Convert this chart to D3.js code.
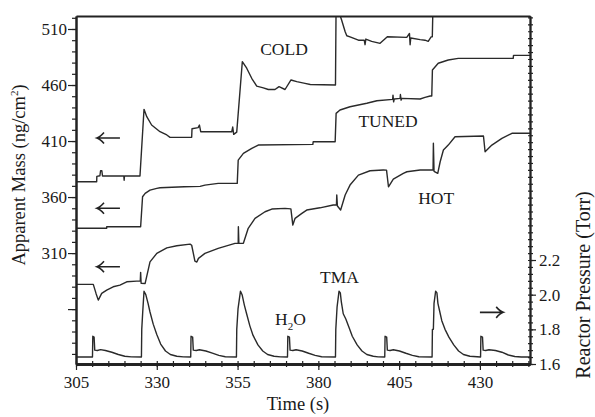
<!DOCTYPE html>
<html><head><meta charset="utf-8">
<script src="https://cdn.jsdelivr.net/npm/d3@7"></script>
<style>
body{margin:0;background:#fff}
svg{display:block}
text{font-family:"Liberation Serif","Times New Roman",serif;fill:#1a1a1a}
</style></head><body>
<svg id="c" width="595" height="417"></svg>
<script>
// ---- data ----
const timeTicks=[305,330,355,380,405,430];
const massTicks=[310,360,410,460,510];
const pressureTicks=[1.6,1.8,2.0,2.2];

// reactor pressure (Torr) vs time (s)
const pressure=[[305,1.64],[310.1,1.64],[310.2,1.76],[310.6,1.755],[310.8,1.68],[311.6,1.678],[312.6,1.683],[314.1,1.678],[316.1,1.668],[318.1,1.655],[320.1,1.645],[322.1,1.641],
[325.25,1.64],[325.35,1.80],[325.65,1.90],[326.05,2.02],[326.6,2.0],[327.3,1.95],[327.9,1.90],[328.9,1.83],[330,1.77],[331.2,1.715],[332.7,1.675],[334.2,1.655],[336.2,1.645],[338.2,1.641],
[340.5,1.64],[340.6,1.76],[341.1,1.755],[341.3,1.68],[342.2,1.678],[343.2,1.682],[345.2,1.675],[347.2,1.663],[349.2,1.65],[351.2,1.642],
[354.65,1.64],[354.75,1.80],[355.15,1.92],[355.9,2.02],[356.4,2.0],[357.1,1.94],[357.8,1.89],[358.8,1.82],[359.8,1.765],[361.3,1.71],[362.8,1.675],[364.3,1.655],[366.3,1.645],[368.3,1.641],
[370.45,1.64],[370.55,1.76],[371.05,1.755],[371.25,1.68],[372.1,1.678],[373.1,1.682],[375,1.675],[377,1.662],[379,1.65],[381,1.642],
[385.3,1.64],[385.4,1.80],[385.8,1.93],[386.4,2.02],[386.8,2.01],[387.1,1.96],[387.7,1.89],[388.5,1.86],[389.5,1.81],[390.5,1.76],[392,1.71],[393.5,1.675],[395,1.655],[397,1.645],[398.5,1.641],
[400.55,1.64],[400.65,1.76],[401.15,1.755],[401.35,1.68],[402.2,1.678],[403.2,1.682],[405.1,1.675],[407.1,1.662],[409.1,1.65],[411.1,1.642],
[415.2,1.64],[415.3,1.80],[415.6,1.80],[415.8,1.95],[416.3,2.02],[416.7,2.01],[417.0,1.95],[417.6,1.90],[418.2,1.85],[419.2,1.80],[420.4,1.755],[421.9,1.71],[423.4,1.675],[424.9,1.655],[426.9,1.645],
[430.2,1.64],[430.3,1.76],[430.8,1.755],[431.0,1.68],[431.8,1.678],[432.8,1.682],[434.8,1.678],[436.8,1.668],[438.8,1.652],[440.8,1.643],[442.8,1.64],[445.5,1.64]];

// apparent mass (ng/cm2), COLD
const cold=[[305,373.7],[311.4,373.7],[311.45,378.5],[312.4,379],[312.6,383.5],[313.0,383.5],[313.2,378.8],[319.8,378.8],[319.9,375],[320.0,378.8],[324.8,378.8],
[326.05,438.3],[326.9,431.7],[328.4,424.3],[331.0,418.3],[333.1,415.4],[334.1,413.3],[340.8,413.3],[340.9,421],[342.8,422],[343.2,424.3],[343.6,418.3],[353.2,418.3],[353.5,422.5],[353.8,416],[354.74,418],
[356.47,480.8],[357.83,475],[359.38,466],[360.93,459],[362.97,457.5],[364.52,456],[366.59,456],[367.83,458.5],[369.69,456],[371.54,464.5],[373.31,463],[375.88,461.5],[377.5,460.5],[385.3,460],
[385.5,535],[386.5,524],[387.2,518],[388.3,507.6],[388.8,504],[389.8,503],[392.4,500],[394.2,500],[394.45,496],[394.7,501],[396.5,499],[399.1,497.2],[401.35,503.1],[407.35,502.5],[408.2,506],[408.4,496],[408.6,502],[411.5,500.5],[413.0,500],[414.0,499],[414.9,503],[415.27,503],
[415.5,535],[445.5,535]];

// apparent mass (ng/cm2), TUNED
const tuned=[[305,332.1],[314.5,332.1],[314.5,333.5],[325.0,333.5],[325.6,360.3],[326.4,363.3],[327.9,366.2],[330,367.8],[331,368.3],[338.5,369.2],[343.4,369.5],[344.9,370.7],[349.0,372.2],[354.9,372.2],
[355.2,393],[356.8,399],[359.4,403.5],[361.4,406.4],[378.3,407],[378.4,409.4],[385.2,409.4],
[385.5,434.7],[386.7,437.7],[389.8,440.6],[395,443.7],[398.1,446],[403.0,447.2],[403.1,451],[403.3,445],[403.5,447.5],[405.3,448.1],[405.4,451.5],[405.6,446.5],[405.8,448.1],[411.5,447.5],[413.0,449],[414.6,450.2],[415.1,450.2],
[415.3,473.4],[417.1,479.4],[420.2,482.3],[423.3,483.8],[440.3,483.8],[440.4,486.5],[445.5,486.5]];

// apparent mass (ng/cm2), HOT
const hot=[[305,282.1],[310.35,282.1],[311.2,274],[311.9,268],[312.95,274],[314.5,277],[316.5,279.9],[318.6,281.4],[320.7,284.4],[323.8,285],[324.9,285],[325.0,292.8],[325.15,283],[326.4,282.9],
[327.9,302.2],[330,309.7],[333.1,314.7],[336.2,316.5],[340.3,318],[340.8,317],[341.8,302.9],[342.4,302],[342.9,305.3],[344.9,309.7],[349,314.2],[354.2,318.7],[355.2,318.7],[355.25,333.5],[355.4,318.7],[356.8,318.7],
[358.3,332.1],[360.4,341],[363.5,346.9],[365.6,349.3],[369.7,349.9],[371.5,349.5],[372.1,335],[372.8,341],[374.9,345.4],[376.4,348.4],[380.5,350.4],[384.6,352.9],[385.6,352.9],[385.7,361.8],[385.9,352],[386.9,348.4],
[388.3,361.8],[389.8,370.7],[392.4,379.6],[396,383.5],[400.1,384.1],[401.1,384],[401.7,369.2],[403.2,376],[406.3,381.2],[407.4,382.6],[411.5,384.1],[415.1,384.1],[415.5,384.1],[415.6,408],[415.8,383],[416.95,381.2],
[417.7,391.5],[418.7,402],[420.2,406.4],[422.3,413.8],[431.1,414.5],[431.6,400.4],[433.7,406.4],[436.8,412.4],[439.9,416.9],[445.5,416.9]];

const labels=[
 {text:"COLD",t:362.0,v:486.8,scale:"mass"},
 {text:"TUNED",t:392.4,v:422.8,scale:"mass"},
 {text:"HOT",t:410.9,v:353.8,scale:"mass"},
 {text:"TMA",t:380.5,v:2.069,scale:"p"}
];
const arrows=[
 {t0:311.5,t1:318.6,v:412.7,scale:"mass",dir:-1},
 {t0:311.5,t1:318.6,v:350.0,scale:"mass",dir:-1},
 {t0:311.5,t1:318.6,v:297.8,scale:"mass",dir:-1},
 {t0:430.0,t1:437.2,v:1.898,scale:"p",dir:1}
];

// ---- layout ----
const L=76,R=530,T=16,B=364;
const svg=d3.select("#c");
const x=d3.scaleLinear().domain([305,445.5]).range([L,R]);
const yM=d3.scaleLinear().domain([211,521.6]).range([B,T]);
const yP=d3.scaleLinear().domain([1.6,3.608]).range([B,T]);
const sc={mass:yM,p:yP};

svg.append("clipPath").attr("id","clip").append("rect")
  .attr("x",L).attr("y",T).attr("width",R-L).attr("height",B-T);

const ink="#222";
const lineM=d3.line().x(d=>x(d[0])).y(d=>yM(d[1]));
const lineP=d3.line().x(d=>x(d[0])).y(d=>yP(d[1]));
const g=svg.append("g").attr("clip-path","url(#clip)");
[cold,tuned,hot].forEach(s=>g.append("path").attr("d",lineM(s)).attr("fill","none")
  .attr("stroke","#2a2a2a").attr("stroke-width",1.4).attr("stroke-linejoin","round"));
g.append("path").attr("d",lineP(pressure)).attr("fill","none")
  .attr("stroke","#2a2a2a").attr("stroke-width",1.4).attr("stroke-linejoin","round");

// ---- axes ----
function styleAxis(sel,w){
  sel.select(".domain").attr("stroke",ink).attr("stroke-width",w);
  sel.selectAll(".tick line").attr("stroke",ink).attr("stroke-width",1.2);
  sel.selectAll(".tick text").attr("font-family",'"Liberation Serif",serif').attr("font-size",17).attr("fill",ink);
}
const minorT=d3.range(305,446,5);
const minorM=d3.range(220,521,10);
const minorP=d3.range(0,51).map(i=>+(1.6+i*0.04).toFixed(2)).filter(v=>v<=3.6);

// bottom
let a=svg.append("g").attr("transform",`translate(0,${B})`)
  .call(d3.axisBottom(x).tickValues(minorT).tickSize(3).tickFormat("").tickSizeOuter(0));
styleAxis(a,2.6);
a=svg.append("g").attr("transform",`translate(0,${B})`)
  .call(d3.axisBottom(x).tickValues(minorT).tickSize(-3).tickFormat("").tickSizeOuter(0));
styleAxis(a,2.6);
a=svg.append("g").attr("transform",`translate(0,${B})`)
  .call(d3.axisBottom(x).tickValues(timeTicks).tickSize(6).tickPadding(6).tickFormat(d3.format("d")).tickSizeOuter(0));
styleAxis(a,2.6);

// left
a=svg.append("g").attr("transform",`translate(${L},0)`)
  .call(d3.axisLeft(yM).tickValues(minorM).tickSize(4).tickFormat("").tickSizeOuter(0));
styleAxis(a,2);
a=svg.append("g").attr("transform",`translate(${L},0)`)
  .call(d3.axisLeft(yM).tickValues([260].concat(massTicks)).tickSize(8).tickPadding(1)
    .tickFormat(d=>massTicks.includes(d)?d3.format("d")(d):"").tickSizeOuter(0));
styleAxis(a,2);

// right
a=svg.append("g").attr("transform",`translate(${R},0)`)
  .call(d3.axisRight(yP).tickValues(minorP).tickSize(3).tickFormat("").tickSizeOuter(0));
styleAxis(a,1.6);
a=svg.append("g").attr("transform",`translate(${R},0)`)
  .call(d3.axisRight(yP).tickValues(minorP).tickSize(-2).tickFormat("").tickSizeOuter(0));
styleAxis(a,1.6);
a=svg.append("g").attr("transform",`translate(${R},0)`)
  .call(d3.axisRight(yP).tickValues(pressureTicks).tickSize(6).tickPadding(3).tickFormat(d3.format(".1f")).tickSizeOuter(0));
styleAxis(a,1.6);

// top frame
svg.append("g").attr("transform",`translate(0,${T})`)
  .call(d3.axisTop(x).tickValues([]).tickSizeOuter(0))
  .call(s=>s.select(".domain").attr("stroke",ink).attr("stroke-width",2.2));

// ---- titles ----
svg.append("text").attr("x",(L+R)/2-5).attr("y",410).attr("text-anchor","middle")
  .attr("font-size",18.5).text("Time (s)");
const yl=svg.append("text").attr("transform",`translate(25,${(T+B)/2-15}) rotate(-90)`)
  .attr("text-anchor","middle").attr("font-size",18.5);
yl.append("tspan").text("Apparent Mass (ng/cm");
yl.append("tspan").attr("font-size",11).attr("dy",-7).text("2");
yl.append("tspan").attr("dy",7).text(")");
svg.append("text").attr("transform",`translate(590,${(T+B)/2+95}) rotate(-90)`)
  .attr("text-anchor","middle").attr("font-size",20).text("Reactor Pressure (Torr)");

// ---- annotations ----
labels.forEach(l=>svg.append("text").attr("x",x(l.t)).attr("y",sc[l.scale](l.v))
  .attr("font-size",17.5).text(l.text));
const h2o=svg.append("text").attr("x",x(366.6)).attr("y",yP(1.825)).attr("font-size",17.5);
h2o.append("tspan").text("H");
h2o.append("tspan").attr("font-size",11).attr("dy",5).text("2");
h2o.append("tspan").attr("dy",-5).text("O");

arrows.forEach(ar=>{
  const y=sc[ar.scale](ar.v), xa=x(ar.t0), xb=x(ar.t1);
  const tip=ar.dir<0?xa:xb, k=-ar.dir;
  svg.append("path")
    .attr("d",`M${xa},${y}L${xb},${y}M${tip+k*7},${y-5.5}Q${tip+k*3},${y-1} ${tip},${y}Q${tip+k*3},${y+1} ${tip+k*7},${y+5.5}`)
    .attr("fill","none").attr("stroke",ink).attr("stroke-width",1.6);
});
</script>
</body></html>
